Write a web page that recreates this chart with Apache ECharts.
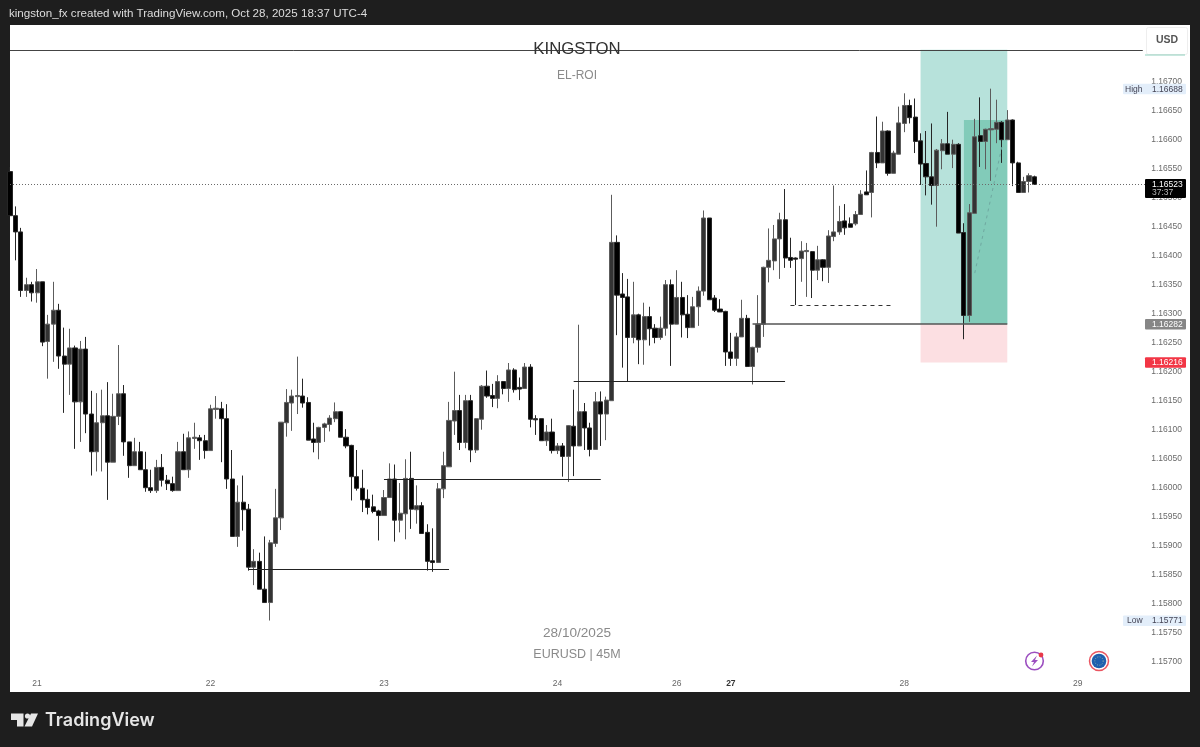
<!DOCTYPE html>
<html>
<head>
<meta charset="utf-8">
<title>EURUSD 45M</title>
<script src="https://cdn.jsdelivr.net/npm/echarts@6/dist/echarts.min.js"></script>
<style>
  html, body { margin: 0; padding: 0; background: #1e1e1e; }
  #chart { width: 1200px; height: 747px; }
</style>
</head>
<body>
<div id="chart"></div>
<script>
// EURUSD 45M candles
const opens = [
  1.16545,1.16469,1.16441,1.16340,1.16350,1.16336,1.16355,1.16252,1.16282,1.16306,
  1.16227,1.16213,1.16241,1.16148,1.16239,1.16127,1.16062,1.16112,1.16124,1.16044,
  1.16123,1.16162,1.16079,1.16038,1.16062,1.16031,1.16000,1.15995,1.16035,1.16013,
  1.16007,1.15995,1.16062,1.16031,1.16085,1.16086,1.16081,1.16064,1.16135,1.16136,
  1.16119,1.16015,1.15916,1.15975,1.15963,1.15863,1.15873,1.15825,1.15802,1.15904,
  1.15948,1.16112,1.16146,1.16157,1.16158,1.16147,1.16084,1.16078,1.16104,1.16109,
  1.16119,1.16131,1.16087,1.16073,1.16019,1.15999,1.15980,1.15967,1.15960,1.15952,
  1.15983,1.16015,1.15944,1.15955,1.16016,1.15962,1.15969,1.15923,1.15874,1.15871,
  1.15998,1.16036,1.16115,1.16133,1.16078,1.16150,1.16065,1.16118,1.16175,1.16159,
  1.16154,1.16183,1.16171,1.16203,1.16173,1.16171,1.16208,1.16119,1.16119,1.16081,
  1.16096,1.16064,1.16072,1.16054,1.16106,1.16072,1.16131,1.16103,1.16066,1.16148,
  1.16127,1.16150,1.16423,1.16334,1.16329,1.16259,1.16298,1.16255,1.16295,1.16275,
  1.16259,1.16275,1.16350,1.16282,1.16328,1.16299,1.16276,1.16312,1.16339,1.16465,
  1.16327,1.16308,1.16304,1.16234,1.16223,1.16260,1.16292,1.16209,1.16242,1.16282,
  1.16380,1.16391,1.16429,1.16462,1.16397,1.16396,1.16395,1.16407,1.16407,1.16375,
  1.16393,1.16380,1.16433,1.16441,1.16460,1.16455,1.16455,1.16471,1.16510,1.16509,
  1.16578,1.16560,1.16615,1.16542,1.16575,1.16628,1.16659,1.16639,1.16598,1.16559,
  1.16536,1.16521,1.16581,1.16593,1.16575,1.16592,1.16440,1.16297,1.16473,1.16607,
  1.16597,1.16617,1.16618,1.16630,1.16600,1.16634,1.16560,1.16509,1.16528,1.16536
];
const closes = [
  1.16469,1.16441,1.16340,1.16350,1.16336,1.16355,1.16251,1.16282,1.16306,1.16227,
  1.16213,1.16241,1.16148,1.16239,1.16127,1.16062,1.16112,1.16124,1.16044,1.16123,
  1.16162,1.16079,1.16038,1.16062,1.16031,1.16000,1.15995,1.16035,1.16013,1.16007,
  1.15995,1.16062,1.16031,1.16086,1.16087,1.16081,1.16064,1.16136,1.16137,1.16119,
  1.16015,1.15916,1.15975,1.15962,1.15863,1.15873,1.15825,1.15802,1.15905,1.15948,
  1.16113,1.16147,1.16158,1.16159,1.16146,1.16082,1.16078,1.16104,1.16110,1.16120,
  1.16131,1.16087,1.16072,1.16019,1.15999,1.15979,1.15966,1.15959,1.15952,1.15983,
  1.16015,1.15944,1.15956,1.16016,1.15963,1.15969,1.15921,1.15873,1.15871,1.15998,
  1.16038,1.16116,1.16133,1.16078,1.16150,1.16065,1.16119,1.16175,1.16158,1.16154,
  1.16183,1.16171,1.16203,1.16169,1.16170,1.16208,1.16118,1.16117,1.16081,1.16096,
  1.16064,1.16072,1.16054,1.16107,1.16072,1.16131,1.16103,1.16066,1.16148,1.16127,
  1.16151,1.16423,1.16332,1.16328,1.16259,1.16298,1.16255,1.16295,1.16274,1.16259,
  1.16275,1.16350,1.16282,1.16328,1.16298,1.16276,1.16312,1.16339,1.16465,1.16324,
  1.16306,1.16303,1.16234,1.16223,1.16260,1.16292,1.16209,1.16242,1.16282,1.16380,
  1.16392,1.16429,1.16462,1.16396,1.16392,1.16394,1.16408,1.16409,1.16375,1.16393,
  1.16380,1.16434,1.16441,1.16459,1.16448,1.16449,1.16471,1.16506,1.16505,1.16578,
  1.16560,1.16615,1.16542,1.16577,1.16629,1.16659,1.16638,1.16597,1.16558,1.16536,
  1.16521,1.16582,1.16593,1.16575,1.16592,1.16439,1.16297,1.16474,1.16605,1.16597,
  1.16618,1.16619,1.16630,1.16600,1.16634,1.16560,1.16509,1.16528,1.16538,1.16523
];
const lows = [
  1.16469,1.16392,1.16329,1.16329,1.16321,1.16319,1.16244,1.16188,1.16217,1.16205,
  1.16129,1.16160,1.16067,1.16079,1.16094,1.16021,1.16028,1.16028,1.15979,1.16044,
  1.16108,1.16055,1.16017,1.16038,1.16031,1.15993,1.15991,1.15991,1.16002,1.15996,
  1.15993,1.15995,1.16031,1.16017,1.16067,1.16048,1.16050,1.16064,1.16119,1.16044,
  1.15998,1.15916,1.15898,1.15926,1.15857,1.15832,1.15825,1.15802,1.15771,1.15898,
  1.15927,1.16088,1.16098,1.16127,1.16138,1.16082,1.16061,1.16049,1.16079,1.16097,
  1.16113,1.16087,1.16068,1.15978,1.15995,1.15958,1.15954,1.15956,1.15909,1.15952,
  1.15983,1.15907,1.15923,1.15911,1.15929,1.15938,1.15921,1.15857,1.15855,1.15871,
  1.15982,1.16036,1.16091,1.16065,1.16068,1.16044,1.16060,1.16100,1.16155,1.16139,
  1.16137,1.16161,1.16148,1.16164,1.16151,1.16171,1.16104,1.16091,1.16081,1.16072,
  1.16059,1.16058,1.16019,1.16010,1.16020,1.16072,1.16065,1.16054,1.16066,1.16072,
  1.16082,1.16150,1.16263,1.16207,1.16183,1.16249,1.16213,1.16212,1.16245,1.16249,
  1.16255,1.16262,1.16210,1.16282,1.16259,1.16258,1.16276,1.16279,1.16331,1.16324,
  1.16303,1.16303,1.16210,1.16210,1.16210,1.16260,1.16208,1.16178,1.16233,1.16260,
  1.16354,1.16375,1.16360,1.16379,1.16379,1.16315,1.16355,1.16329,1.16327,1.16358,
  1.16356,1.16353,1.16425,1.16436,1.16436,1.16449,1.16452,1.16471,1.16505,1.16466,
  1.16551,1.16560,1.16538,1.16542,1.16575,1.16613,1.16628,1.16577,1.16522,1.16504,
  1.16488,1.16450,1.16549,1.16575,1.16551,1.16439,1.16256,1.16286,1.16473,1.16553,
  1.16549,1.16529,1.16594,1.16560,1.16600,1.16520,1.16509,1.16509,1.16509,1.16522
];
const highs = [
  1.16553,1.16485,1.16448,1.16362,1.16355,1.16377,1.16355,1.16298,1.16355,1.16317,
  1.16276,1.16274,1.16245,1.16253,1.16260,1.16167,1.16163,1.16169,1.16182,1.16162,
  1.16246,1.16177,1.16079,1.16086,1.16079,1.16062,1.16031,1.16048,1.16058,1.16022,
  1.16019,1.16079,1.16093,1.16097,1.16112,1.16091,1.16091,1.16143,1.16158,1.16148,
  1.16144,1.16065,1.16004,1.16021,1.15972,1.15894,1.15888,1.15916,1.15910,1.15998,
  1.16113,1.16170,1.16169,1.16226,1.16188,1.16156,1.16112,1.16105,1.16112,1.16125,
  1.16147,1.16132,1.16101,1.16074,1.16065,1.16031,1.15997,1.15988,1.15962,1.15996,
  1.16042,1.16040,1.16008,1.16049,1.16062,1.16004,1.15975,1.15937,1.15930,1.16008,
  1.16062,1.16148,1.16200,1.16160,1.16160,1.16160,1.16120,1.16177,1.16202,1.16179,
  1.16194,1.16184,1.16215,1.16206,1.16190,1.16215,1.16213,1.16125,1.16119,1.16108,
  1.16119,1.16077,1.16077,1.16108,1.16169,1.16281,1.16146,1.16112,1.16165,1.16166,
  1.16157,1.16505,1.16435,1.16370,1.16360,1.16355,1.16300,1.16319,1.16312,1.16282,
  1.16295,1.16358,1.16359,1.16375,1.16355,1.16332,1.16329,1.16347,1.16478,1.16465,
  1.16332,1.16325,1.16305,1.16267,1.16267,1.16324,1.16298,1.16243,1.16332,1.16381,
  1.16447,1.16453,1.16474,1.16515,1.16431,1.16397,1.16425,1.16422,1.16408,1.16417,
  1.16394,1.16444,1.16521,1.16486,1.16489,1.16466,1.16477,1.16513,1.16547,1.16579,
  1.16640,1.16631,1.16616,1.16581,1.16657,1.16680,1.16669,1.16671,1.16611,1.16615,
  1.16628,1.16584,1.16601,1.16648,1.16600,1.16594,1.16456,1.16489,1.16636,1.16673,
  1.16619,1.16688,1.16669,1.16632,1.16651,1.16635,1.16562,1.16536,1.16542,1.16538
];

// day labels on the time axis (bar number -> label)
const dayBars = [5, 37, 69, 101, 123, 133, 165, 197];
const dayNames = ['21', '22', '23', '24', '26', '27', '28', '29'];

// price axis
const priceMin = 1.1565;
const priceMax = 1.168;
const priceStep = 0.0005;

// drawn levels: price, first bar, last bar
const levelPrices = [1.15859, 1.16015, 1.16183, 1.16282];
const levelStarts = [44, 69, 104, 137];
const levelEnds = [81, 109, 143, 184];

const topLinePrice = 1.16755;
const dashedLevel = [1.16315, 144, 163];
const lastPrice = 1.16523;
const pathBars = [178, 183];
const pathPrices = [1.16370, 1.16588];

// long position tool
const zoneBars = [168, 176, 184];
const profitPrice = 1.16755;
const entryPrice = 1.16282;
const stopPrice = 1.16216;
const activeTopPrice = 1.16634;

// tags on the price scale
const highPrice = 1.16688;
const lowPrice = 1.15771;

const bars = [];
for (let i = 0; i <= 210; i++) bars.push('bar' + i);

const candles = opens.map((o, i) => [o, closes[i], lows[i], highs[i]]);

const plainLine = { symbol: 'none', silent: true, label: { show: false } };

function levelLine(price, from, to, lineStyle) {
  return [{ xAxis: from, yAxis: price, lineStyle: lineStyle }, { xAxis: to, yAxis: price }];
}

const levelLines = levelPrices.map((p, i) =>
  levelLine(p, levelStarts[i], levelEnds[i], { color: i === 3 ? '#555' : '#222', width: i === 3 ? 1.5 : 1, type: 'solid' }));

const priceTags = [
  [0, highPrice, 'high'],
  [0, lowPrice, 'low'],
  [0, entryPrice, 'entry'],
  [0, stopPrice, 'stop'],
  [0, lastPrice, 'last']
];

const tagFont = '8.5px "Liberation Sans"';

function tagText(x, y, text, fill) {
  return { type: 'text', style: { x: x, y: y, text: text, fill: fill, font: tagFont, textVerticalAlign: 'middle' } };
}

function tagRect(x, y, w, h, fill) {
  return { type: 'rect', shape: { x: x, y: y, width: w, height: h, r: 1 }, style: { fill: fill } };
}

// tags are placed on the y scale through api.coord
function renderTag(params, api) {
  const price = api.value(1);
  const kind = priceTags[params.dataIndex][2];
  const y = api.coord([0, price])[1];
  const text = price.toFixed(5);
  let children;
  if (kind === 'high' || kind === 'low') {
    children = [
      tagRect(1123, y - 5, 63, 10.5, '#e3eefa'),
      tagText(kind === 'high' ? 1125 : 1127, y + 0.5, kind === 'high' ? 'High' : 'Low', '#445'),
      tagText(1152, y + 0.5, text, '#445')
    ];
  } else if (kind === 'last') {
    children = [
      tagRect(1145, y - 5.4, 41, 19, '#000'),
      tagText(1152, y + 0.6, text, '#fff'),
      tagText(1152, y + 8.6, '37:37', '#bbb')
    ];
  } else {
    children = [
      tagRect(1145, y - 5.2, 41, 10.6, kind === 'entry' ? '#868686' : '#f23645'),
      tagText(1152, y + 0.2, text, '#fff')
    ];
  }
  return { type: 'group', children: children };
}

const pageText = (x, y, text, font, fill, align) => ({
  type: 'text', z: 30,
  style: { x: x, y: y, text: text, font: font, fill: fill, textAlign: align || 'left', textVerticalAlign: 'middle' }
});

const chart = echarts.init(document.getElementById('chart'));

chart.setOption({
  animation: false,
  backgroundColor: '#1e1e1e',
  grid: { left: 10, top: 23.7, width: 1138.2, height: 667 },
  xAxis: {
    type: 'category',
    data: bars,
    boundaryGap: false,
    axisLine: { show: false },
    axisTick: { show: false },
    splitLine: { show: false },
    axisLabel: {
      inside: true,
      margin: 3,
      color: '#666',
      fontSize: 8.5,
      fontFamily: 'Liberation Sans',
      hideOverlap: false,
      interval: (index) => dayBars.includes(index),
      formatter: (value, index) => {
        const name = dayNames[dayBars.indexOf(index)];
        return name === '27' ? '{b|27}' : name;
      },
      rich: { b: { fontWeight: 'bold', color: '#333', fontSize: 8.5 } }
    }
  },
  yAxis: {
    type: 'value',
    position: 'right',
    min: priceMin,
    max: priceMax,
    interval: priceStep,
    axisLine: { show: false },
    axisTick: { show: false },
    splitLine: { show: false },
    axisLabel: {
      margin: 3,
      color: '#6a6a6a',
      fontSize: 8.5,
      fontFamily: 'Liberation Sans',
      showMinLabel: false,
      showMaxLabel: false,
      formatter: (v) => (v < 1.15699 || v > 1.16701) ? '' : v.toFixed(5)
    }
  },
  series: [
    {
      name: 'zones',
      type: 'line',
      data: [],
      z: 1,
      markArea: {
        silent: true,
        data: [
          [{ xAxis: zoneBars[0], yAxis: profitPrice, itemStyle: { color: '#b7e2db', opacity: 1 } }, { xAxis: zoneBars[2], yAxis: entryPrice }],
          [{ xAxis: zoneBars[0], yAxis: entryPrice, itemStyle: { color: '#fcdfe2', opacity: 1 } }, { xAxis: zoneBars[2], yAxis: stopPrice }],
          [{ xAxis: zoneBars[1], yAxis: activeTopPrice, itemStyle: { color: '#82cbb9', opacity: 1 } }, { xAxis: zoneBars[2], yAxis: entryPrice }]
        ]
      }
    },
    {
      name: 'levels',
      type: 'line',
      data: [],
      z: 3,
      markLine: {
        ...plainLine,
        animation: false,
        data: [
          levelLine(topLinePrice, 0, 209, { color: '#444', width: 1, type: 'solid' }),
          levelLine(lastPrice, 0, 210, { color: '#6a6a6a', width: 1, type: [1, 2] }),
          levelLine(dashedLevel[0], dashedLevel[1], dashedLevel[2], { color: '#333', width: 1, type: [4, 4] }),
          ...levelLines,
          [
            { xAxis: pathBars[0], yAxis: pathPrices[0], lineStyle: { color: '#6fa8a0', width: 1, type: [3, 4] } },
            { xAxis: pathBars[1], yAxis: pathPrices[1] }
          ]
        ]
      }
    },
    {
      name: 'EURUSD',
      type: 'candlestick',
      data: candles,
      barWidth: 4.6,
      z: 2,
      itemStyle: {
        color: '#333',
        color0: '#000',
        borderColor: '#5c5c5c',
        borderColor0: '#262626',
        borderWidth: 1
      }
    },
    {
      name: 'tags',
      type: 'custom',
      data: priceTags,
      encode: { x: 0, y: 1 },
      clip: false,
      silent: true,
      z: 20,
      renderItem: renderTag
    }
  ],
  graphic: {
    elements: [
      // white panel behind the plot
      { type: 'rect', z: -5, shape: { x: 10, y: 25, width: 1180, height: 667 }, style: { fill: '#fff' } },
      // USD button
      { type: 'rect', z: 30, shape: { x: 1146.5, y: 27.5, width: 41, height: 27, r: 2 }, style: { fill: '#fff', stroke: '#eee' } },
      { type: 'line', z: 30, shape: { x1: 1145, y1: 55, x2: 1185, y2: 55 }, style: { stroke: '#8fd0bd', lineWidth: 1 } },
      pageText(1167, 40, 'USD', 'bold 10.5px "Liberation Sans"', '#555', 'center'),
      // header and captions
      pageText(9, 14, 'kingston_fx created with TradingView.com, Oct 28, 2025 18:37 UTC-4', '11.6px "Liberation Sans"', '#ddd'),
      pageText(577, 49, 'KINGSTON', '16.8px "Liberation Sans"', '#333', 'center'),
      pageText(577, 76, 'EL-ROI', '12px "Liberation Sans"', '#8a8a8a', 'center'),
      pageText(577, 633.5, '28/10/2025', '13.6px "Liberation Sans"', '#8a8a8a', 'center'),
      pageText(577, 655, 'EURUSD | 45M', '12.5px "Liberation Sans"', '#8a8a8a', 'center'),
      // TradingView logo
      { type: 'polygon', z: 30, shape: { points: [[11, 713.5], [23.5, 713.5], [23.5, 726.5], [17, 726.5], [17, 720], [11, 720]] }, style: { fill: '#e6e6e6' } },
      { type: 'circle', z: 30, shape: { cx: 27.5, cy: 716, r: 2.6 }, style: { fill: '#e6e6e6' } },
      { type: 'polygon', z: 30, shape: { points: [[31, 713.5], [38, 713.5], [32, 726.5], [24.5, 726.5]] }, style: { fill: '#e6e6e6' } },
      pageText(45, 721, 'TradingView', '600 18px "Inter"', '#e6e6e6'),
      // purple lightning icon
      { type: 'circle', z: 30, shape: { cx: 1034.5, cy: 661, r: 8.8 }, style: { fill: '#fff', stroke: '#9c4fc0', lineWidth: 1.6 } },
      { type: 'polygon', z: 30, shape: { points: [[1037, 655.5], [1031, 662], [1034, 662], [1032, 666.5], [1038, 660], [1035, 660]] }, style: { fill: '#9c4fc0' } },
      { type: 'circle', z: 31, shape: { cx: 1041, cy: 655, r: 2.4 }, style: { fill: '#e8394a' } },
      // EUR flag icon
      { type: 'circle', z: 30, shape: { cx: 1099, cy: 661, r: 9.5 }, style: { fill: '#fff', stroke: '#ea5560', lineWidth: 1.5 } },
      { type: 'circle', z: 31, shape: { cx: 1099, cy: 661, r: 7.3 }, style: { fill: '#1f5fae' } },
      { type: 'circle', z: 32, shape: { cx: 1099, cy: 661, r: 4.2 }, style: { fill: 'none', stroke: '#8fb0a8', lineWidth: 1, lineDash: [1, 1.5] } }
    ]
  }
});
</script>
</body>
</html>
